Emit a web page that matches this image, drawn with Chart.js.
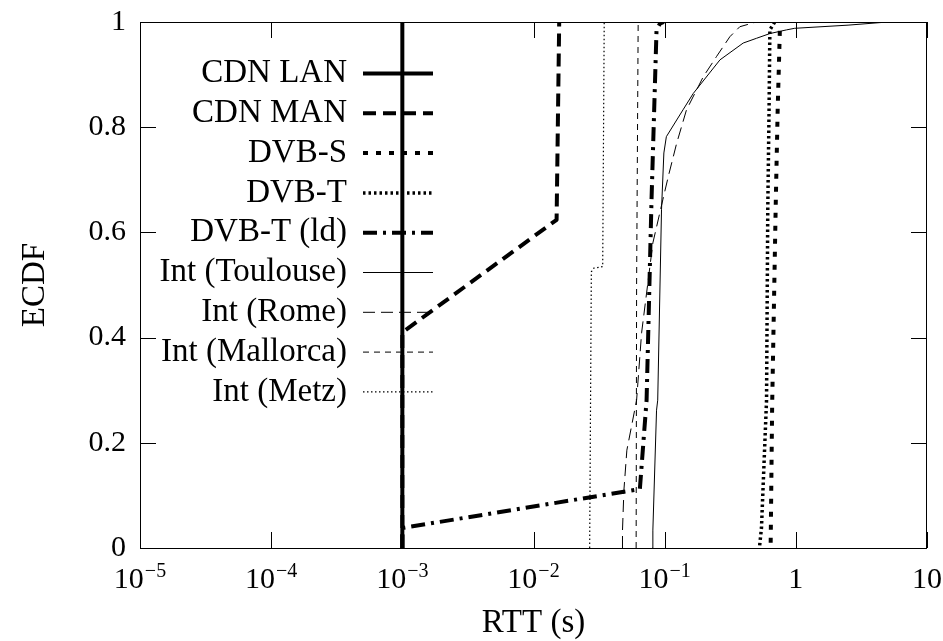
<!DOCTYPE html>
<html>
<head>
<meta charset="utf-8">
<script src="https://cdn.jsdelivr.net/npm/chart.js@4.4.0/dist/chart.umd.min.js"></script>
<style>
  html, body { margin: 0; padding: 0; background: #fff; }
</style>
</head>
<body>
<canvas id="ecdfChart" width="943" height="641"></canvas>
<script>
// values (x = RTT in seconds, y = ECDF)
const seriesNames = ['CDN LAN', 'CDN MAN', 'DVB-S', 'DVB-T', 'DVB-T (ld)',
  'Int (Toulouse)', 'Int (Rome)', 'Int (Mallorca)', 'Int (Metz)'];

const cdnLanX = [0.001, 0.001];
const cdnLanY = [0, 1];

const cdnManX = [0.001, 0.001, 0.0150, 0.0157];
const cdnManY = [0, 0.41, 0.624, 1];

const dvbSX = [0.643, 0.645, 0.66, 0.703, 0.727, 0.755, 0.76];
const dvbSY = [0.01, 0.04, 0.272, 0.656, 0.833, 0.982, 1];

const dvbTX = [0.53, 0.547, 0.598, 0.611, 0.625, 0.634, 0.69];
const dvbTY = [0.005, 0.038, 0.281, 0.643, 0.833, 0.985, 1];

const dvbTldX = [0.001, 0.001, 0.0647, 0.0728, 0.0794, 0.0867, 0.092, 0.0986];
const dvbTldY = [0, 0.038, 0.112, 0.281, 0.662, 0.985, 0.997, 1];

const toulouseX = [0.0805, 0.0813, 0.0867, 0.0885, 0.0946, 0.0986, 0.103, 0.138, 0.165, 0.264, 0.397, 0.501, 0.634, 0.849, 0.98, 2.5, 5];
const toulouseY = [0, 0.034, 0.262, 0.281, 0.643, 0.751, 0.782, 0.833, 0.864, 0.928, 0.960, 0.969, 0.978, 0.985, 0.988, 0.994, 1];

const romeX = [0.0477, 0.0477, 0.0489, 0.0515, 0.0611, 0.0667, 0.0813, 0.0968, 0.1065, 0.1233, 0.1467, 0.197, 0.248, 0.314, 0.374, 0.50];
const romeY = [0, 0.034, 0.110, 0.186, 0.281, 0.409, 0.580, 0.662, 0.706, 0.769, 0.833, 0.896, 0.934, 0.972, 0.991, 1];

const mallorcaX = [0.0606, 0.0611, 0.0628];
const mallorcaY = [0, 0.5, 1];

const metzX = [0.0268, 0.0276, 0.0288, 0.0337, 0.0346];
const metzY = [0, 0.525, 0.532, 0.535, 1];

const xTickValues = [1e-5, 1e-4, 1e-3, 1e-2, 1e-1, 1, 10];
const xTickBase = ['10', '10', '10', '10', '10', '1', '10'];
const xTickExp = ['−5', '−4', '−3', '−2', '−1', '', ''];
const yTickValues = [0, 0.2, 0.4, 0.6, 0.8, 1];
const yTickLabels = ['0', '0.2', '0.4', '0.6', '0.8', '1'];

function pts(xs, ys) {
  return xs.map((v, i) => ({ x: v, y: ys[i] }));
}

const serif = 'Liberation Serif';

const datasets = [
  { data: pts(cdnLanX, cdnLanY), borderWidth: 4, borderDash: [] },
  { data: pts(cdnManX, cdnManY), borderWidth: 4, borderDash: [13, 7] },
  { data: pts(dvbSX, dvbSY), borderWidth: 4, borderDash: [5, 8] },
  { data: pts(dvbTX, dvbTY), borderWidth: 3.5, borderDash: [2.5, 3] },
  { data: pts(dvbTldX, dvbTldY), borderWidth: 4, borderDash: [14, 6, 3, 6] },
  { data: pts(toulouseX, toulouseY), borderWidth: 1, borderDash: [] },
  { data: pts(romeX, romeY), borderWidth: 1, borderDash: [12, 6] },
  { data: pts(mallorcaX, mallorcaY), borderWidth: 1, borderDash: [6, 5] },
  { data: pts(metzX, metzY), borderWidth: 1.2, borderDash: [1.5, 2.5] }
].map((d, i) => Object.assign(d, {
  label: seriesNames[i],
  borderColor: '#000',
  backgroundColor: '#000',
  pointRadius: 0,
  tension: 0,
  fill: false,
  borderJoinStyle: 'round'
}));

// scales ask for room for their end labels; the frame is fixed here instead
function noEdgePadding(s) {
  s.paddingTop = 0;
  s.paddingBottom = 0;
  s.paddingLeft = 0;
  s.paddingRight = 0;
}

// border, inward ticks on all four sides, 10^n labels and the gnuplot style key
const framePlugin = {
  id: 'frame',
  beforeDatasetsDraw(chart) {
    const { ctx, chartArea: a, scales: { x, y } } = chart;
    ctx.save();
    ctx.strokeStyle = '#000';
    ctx.lineWidth = 1;
    ctx.strokeRect(a.left + 0.5, a.top + 0.5, a.right - a.left - 1, a.bottom - a.top);
    ctx.beginPath();
    xTickValues.forEach(v => {
      const px = Math.round(x.getPixelForValue(v)) + 0.5;
      ctx.moveTo(px, a.bottom); ctx.lineTo(px, a.bottom - 16);
      ctx.moveTo(px, a.top); ctx.lineTo(px, a.top + 16);
    });
    yTickValues.forEach(v => {
      const py = Math.round(y.getPixelForValue(v)) + 0.5;
      ctx.moveTo(a.left, py); ctx.lineTo(a.left + 16, py);
      ctx.moveTo(a.right, py); ctx.lineTo(a.right - 16, py);
    });
    ctx.stroke();

    // x tick labels with a raised exponent
    ctx.fillStyle = '#000';
    ctx.textBaseline = 'alphabetic';
    ctx.textAlign = 'left';
    const baseFont = '30px "' + serif + '"';
    const expFont = '20px "' + serif + '"';
    xTickValues.forEach((v, i) => {
      const px = x.getPixelForValue(v);
      ctx.font = baseFont;
      const wb = ctx.measureText(xTickBase[i]).width;
      ctx.font = expFont;
      const we = xTickExp[i] ? ctx.measureText(xTickExp[i]).width + 1 : 0;
      const start = px - (wb + we) / 2;
      ctx.font = baseFont;
      ctx.fillText(xTickBase[i], start, a.bottom + 40);
      if (xTickExp[i]) {
        ctx.font = expFont;
        ctx.fillText(xTickExp[i], start + wb + 1, a.bottom + 29);
      }
    });
    ctx.restore();
  },
  afterDatasetsDraw(chart) {
    const ctx = chart.ctx;
    ctx.save();
    ctx.font = '33px "' + serif + '"';
    ctx.fillStyle = '#000';
    ctx.textAlign = 'right';
    ctx.textBaseline = 'middle';
    chart.data.datasets.forEach((ds, i) => {
      const ly = 73.5 + i * 39.8;
      ctx.fillText(ds.label, 347, ly);
      ctx.beginPath();
      ctx.strokeStyle = ds.borderColor;
      ctx.lineWidth = ds.borderWidth;
      ctx.setLineDash(ds.borderDash);
      ctx.moveTo(363, ly);
      ctx.lineTo(433, ly);
      ctx.stroke();
    });
    ctx.restore();
  }
};

new Chart(document.getElementById('ecdfChart'), {
  type: 'line',
  data: { datasets: datasets },
  options: {
    responsive: false,
    animation: false,
    layout: { padding: { top: 22, right: 16, left: 0, bottom: 0 } },
    plugins: { legend: { display: false }, tooltip: { enabled: false } },
    scales: {
      x: {
        type: 'logarithmic',
        min: 1e-5,
        max: 10,
        afterBuildTicks: s => { s.ticks = xTickValues.map(v => ({ value: v })); },
        afterFit: s => { s.height = 93; noEdgePadding(s); },
        grid: { display: false, drawTicks: false },
        border: { display: false },
        ticks: { display: false },
        title: {
          display: true,
          text: 'RTT (s)',
          color: '#000',
          font: { family: serif, size: 33, lineHeight: 1.1 },
          padding: { top: 0, bottom: 0 }
        }
      },
      y: {
        type: 'linear',
        min: 0,
        max: 1,
        afterBuildTicks: s => { s.ticks = yTickValues.map(v => ({ value: v })); },
        afterFit: s => { s.width = 140; noEdgePadding(s); },
        grid: { display: false, drawTicks: false },
        border: { display: false },
        ticks: {
          padding: 14,
          color: '#000',
          font: { family: serif, size: 30 },
          callback: v => yTickLabels[yTickValues.indexOf(v)] || ''
        },
        title: {
          display: true,
          text: 'ECDF',
          color: '#000',
          font: { family: serif, size: 33, lineHeight: 1.1 },
          padding: { top: 17, bottom: 0 }
        }
      }
    }
  },
  plugins: [framePlugin]
});
</script>
</body>
</html>
